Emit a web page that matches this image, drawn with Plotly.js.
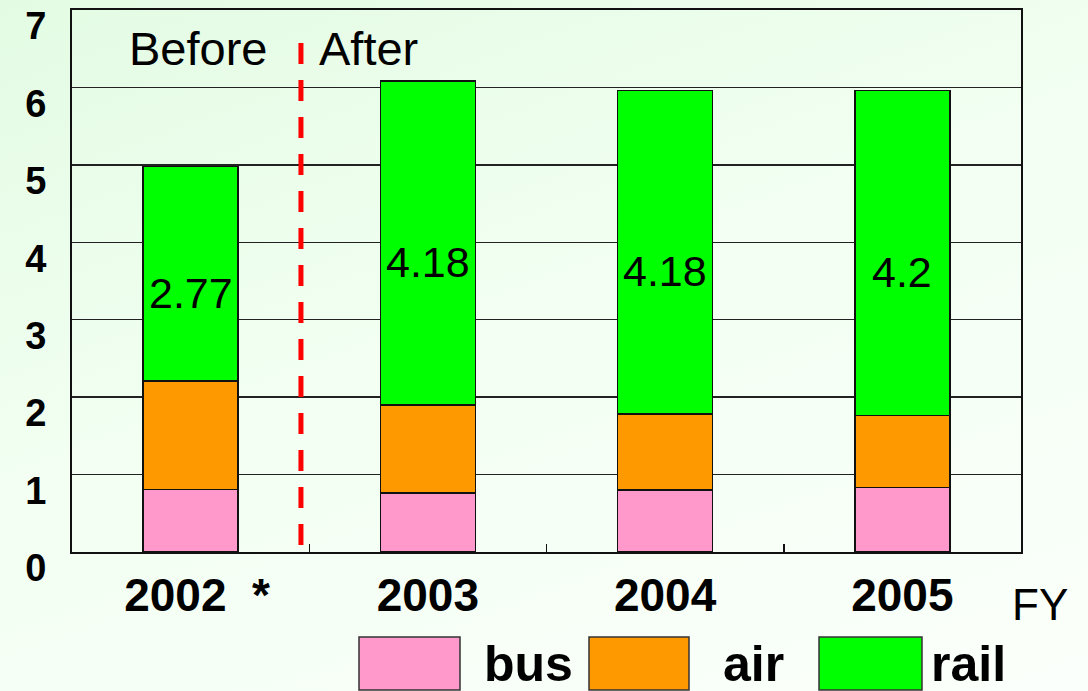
<!DOCTYPE html>
<html>
<head>
<meta charset="utf-8">
<script src="https://cdn.plot.ly/plotly-3.0.1.min.js"></script>
<style>
  html, body { margin: 0; padding: 0; }
  body { width: 1088px; height: 691px; background: linear-gradient(160deg, #e3fbe3 0%, #f2fff2 45%, #fbfffb 100%); overflow: hidden; }
  #chart { width: 1088px; height: 691px; }
</style>
</head>
<body>
<div id="chart"></div>
<script>
// ---- data ----
const years = ["2002", "2003", "2004", "2005"];
const yearLabels = ["&nbsp;2002&nbsp;&nbsp;*", "2003", "2004", "2005"];
const seriesNames = ["bus", "air", "rail"];
const busVals = [0.81, 0.76, 0.80, 0.83];
const airVals = [1.40, 1.14, 0.98, 0.93];
const railVals = [2.77, 4.18, 4.18, 4.2];
const seriesColors = ["#ff99cc", "#ff9900", "#00ff00"];
const yTicks = [0, 1, 2, 3, 4, 5, 6, 7];
const periodLabels = ["Before", "After"];
const axisUnit = "FY";

// ---- layout helpers (pixel geometry) ----
const W = 1088, H = 691;
const M = { l: 72, r: 67, t: 10, b: 139 };
const PW = W - M.l - M.r, PH = H - M.t - M.b;
const px2x = p => (p - M.l) / PW;
const px2y = p => (H - M.b - p) / PH;

const sans = "'Liberation Sans', Arial, sans-serif";

const valsBySeries = [busVals, airVals, railVals];
const traces = seriesNames.map((n, i) => ({
  type: "bar",
  name: n,
  x: years,
  y: valsBySeries[i],
  width: 0.4,
  marker: { color: seriesColors[i], line: { color: "#111", width: 1.5 } },
  showlegend: false,
  hoverinfo: "y+name"
}));

const annotations = [];
// rail value labels
years.forEach((yr, i) => {
  annotations.push({
    x: i, y: busVals[i] + airVals[i] + railVals[i] / 2,
    xref: "x", yref: "y", xanchor: "center", yanchor: "middle",
    text: String(railVals[i]),
    showarrow: false, yshift: -19,
    font: { family: sans, size: 43, color: "#000" }
  });
});
// Before / After
annotations.push({ x: 0.465, y: 6.5, xref: "x", yref: "y", xanchor: "right", yanchor: "middle", xshift: -32,
  text: periodLabels[0], showarrow: false, font: { family: sans, size: 47, color: "#000" } });
annotations.push({ x: 0.465, y: 6.5, xref: "x", yref: "y", xanchor: "left", yanchor: "middle", xshift: 16,
  text: periodLabels[1], showarrow: false, font: { family: sans, size: 47, color: "#000" } });
// FY
annotations.push({ x: px2x(1040), y: px2y(604), xref: "paper", yref: "paper", xanchor: "center", yanchor: "middle",
  text: axisUnit, showarrow: false, font: { family: sans, size: 44, color: "#000" } });

// custom legend
const legendBoxes = [[359, 460], [589, 689], [819, 922]];
const legendText = [528, 753, 968];
const shapes = [
  { type: "line", xref: "x", yref: "y", x0: 0.465, x1: 0.465, y0: 0.09, y1: 6.68,
    line: { color: "#ff0000", width: 5, dash: "21px,16px" } }
];
seriesNames.forEach((n, i) => {
  shapes.push({ type: "rect", xref: "paper", yref: "paper",
    x0: px2x(legendBoxes[i][0]), x1: px2x(legendBoxes[i][1]),
    y0: px2y(690), y1: px2y(637),
    fillcolor: seriesColors[i], line: { color: "#333", width: 1.5 } });
  annotations.push({ x: px2x(legendText[i]), y: px2y(664), xref: "paper", yref: "paper",
    xanchor: "center", yanchor: "middle",
    text: "<b>" + n + "</b>", showarrow: false,
    font: { family: sans, size: 50, color: "#000" } });
});

const layout = {
  width: W, height: H,
  margin: M,
  paper_bgcolor: "rgba(0,0,0,0)",
  plot_bgcolor: "rgba(0,0,0,0)",
  barmode: "stack",
  showlegend: false,
  xaxis: {
    type: "category",
    tickvals: years, ticktext: yearLabels.map(t => "<b>" + t + "</b>"),
    tickson: "boundaries", ticks: "inside", ticklen: 8, tickcolor: "#111", tickwidth: 1.5,
    showline: true, linecolor: "#111", linewidth: 2, mirror: true,
    showgrid: false, zeroline: false,
    ticklabelstandoff: 2,
    tickfont: { family: sans, size: 46, color: "#000" },
    range: [-0.5, 3.5]
  },
  yaxis: {
    range: [0, 7], tickvals: yTicks, ticktext: yTicks.map(v => "<b>" + v + "</b>"),
    showline: true, linecolor: "#111", linewidth: 2, mirror: true,
    showgrid: true, gridcolor: "#222", gridwidth: 1.5, zeroline: false,
    ticks: "", ticklabelshift: 16, ticklabelstandoff: 16,
    tickfont: { family: sans, size: 38, color: "#000" }
  },
  annotations: annotations,
  shapes: shapes
};

Plotly.newPlot("chart", traces, layout, { displayModeBar: false, staticPlot: true });
</script>
</body>
</html>
